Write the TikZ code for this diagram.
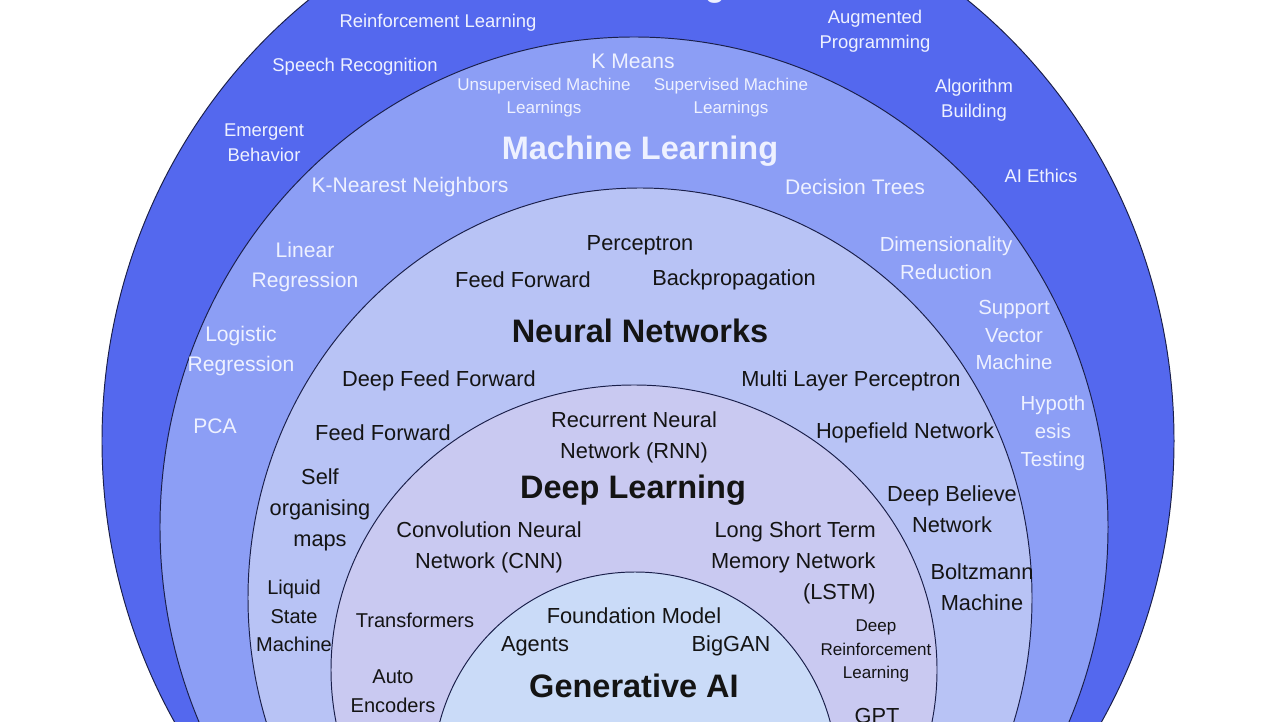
\documentclass[tikz,border=0pt]{standalone}
\usepackage{fontspec}
\setmainfont{Liberation Sans}
\usetikzlibrary{positioning}

\definecolor{aiblue}{HTML}{5468EE}
\definecolor{mlblue}{HTML}{8C9EF5}
\definecolor{nnblue}{HTML}{B8C3F5}
\definecolor{dlblue}{HTML}{C9C9F1}
\definecolor{genblue}{HTML}{CADBF8}
\definecolor{rimline}{HTML}{1A1F4A}
\definecolor{pale}{HTML}{EEF1FF}
\definecolor{inkblack}{HTML}{141414}

\begin{document}
\begin{tikzpicture}[x=0.02cm, y=-0.02cm]
    \tikzset{
        ring/.style = {draw=rimline, line width=0.55pt},
        outertext/.style = {text=pale, align=center, inner sep=0pt, font=\fontsize{10.5}{14.5}\selectfont},
        mltext/.style = {text=pale, align=center, inner sep=0pt, font=\fontsize{12}{17}\selectfont},
        mlmid/.style = {text=pale, align=center, inner sep=0pt, font=\fontsize{11.6}{15.8}\selectfont},
        mlsmall/.style = {text=pale, align=center, inner sep=0pt, font=\fontsize{9.7}{13}\selectfont},
        nntext/.style = {text=inkblack, align=center, inner sep=0pt, font=\fontsize{12.4}{17.5}\selectfont},
        nnsmall/.style = {text=inkblack, align=center, inner sep=0pt, font=\fontsize{11.4}{16.2}\selectfont},
        dltiny/.style = {text=inkblack, align=center, inner sep=0pt, font=\fontsize{9.7}{13.6}\selectfont},
        heading/.style = {inner sep=0pt, font=\fontsize{18.5}{22}\selectfont\bfseries},
    }
    \clip (0,0) rectangle (1280,722);
    \fill[white] (0,0) rectangle (1280,722);

    % nested fields
    \filldraw[ring, fill=aiblue] (638,441) ellipse [x radius=536, y radius=559];
    \filldraw[ring, fill=mlblue] (634,527) ellipse [x radius=474, y radius=490];
    \filldraw[ring, fill=nnblue] (640,598) ellipse [x radius=392, y radius=410];
    \filldraw[ring, fill=dlblue] (634,670) ellipse [x radius=303, y radius=285];
    \filldraw[ring, fill=genblue] (635,774) ellipse [x radius=202, y radius=202];

    % Artificial Intelligence
    \node[heading, text=pale, anchor=base](ai) at (640,-3) {Artificial Intelligence};
    \node[outertext](reinf) at (438,23) {Reinforcement Learning};
    \node[outertext](augm) at (875,31) {Augmented\\Programming};
    \node[outertext](speech) at (355,67) {Speech Recognition};
    \node[outertext](algo) at (974,100) {Algorithm\\Building};
    \node[outertext](emerg) at (264,143) {Emergent\\Behavior};
    \node[outertext](ethics) at (1041,176) {AI Ethics};

    % Machine Learning
    \node[mltext](kmeans) at (633,61) {K Means};
    \node[mlsmall](unsup) at (544,98) {Unsupervised Machine\\Learnings};
    \node[mlsmall](sup) at (731,98) {Supervised Machine\\Learnings};
    \node[heading, text=pale](ml) at (640,151) {Machine Learning};
    \node[mltext](knn) at (410,187) {K-Nearest Neighbors};
    \node[mltext](dtree) at (855,187) {Decision Trees};
    \node[mltext](linreg) at (305,267) {Linear\\Regression};
    \node[mlmid](dimred) at (946,258) {Dimensionality\\Reduction};
    \node[mltext](logreg) at (241,351) {Logistic\\Regression};
    \node[mlmid](svm) at (1014,335) {Support\\Vector\\Machine};
    \node[mltext](pca) at (215,426) {PCA};
    \node[mlmid](hypo) at (1053,433) {Hypoth\\esis\\Testing};

    % Neural Networks
    \node[nntext](percep) at (640,245) {Perceptron};
    \node[nntext](ffwd) at (523,280) {Feed Forward};
    \node[nntext](backprop) at (734,280) {Backpropagation};
    \node[heading, text=inkblack](nn) at (640,331) {Neural Networks};
    \node[nntext](dff) at (439,381) {Deep Feed Forward};
    \node[nntext](mlp) at (851,381) {Multi Layer Perceptron};
    \node[nntext](ffwdb) at (383,433) {Feed Forward};
    \node[nntext](hopf) at (905,433) {Hopefield Network};
    \node[nntext](som) at (320,510) {Self\\organising\\maps};
    \node[nntext](dbn) at (952,509) {Deep Believe\\Network};
    \node[nnsmall](lsm) at (294,616) {Liquid\\State\\Machine};
    \node[nntext](boltz) at (982,587) {Boltzmann\\Machine};

    % Deep Learning
    \node[nntext](rnn) at (634,437) {Recurrent Neural\\Network (RNN)};
    \node[heading, text=inkblack](dl) at (633,490) {Deep Learning};
    \node[nntext](cnn) at (489,547) {Convolution Neural\\Network (CNN)};
    \node[nntext, align=right, anchor=east](lstm) at (876,563) {Long Short Term\\Memory Network\\(LSTM)};
    \node[nnsmall](transf) at (415,620) {Transformers};
    \node[dltiny](drl) at (876,651) {Deep\\Reinforcement\\Learning};
    \node[nnsmall](autoenc) at (393,691) {Auto\\Encoders};
    \node[nntext](gpt) at (877,716) {GPT};

    % Generative AI
    \node[nntext](found) at (634,616) {Foundation Model};
    \node[nntext](agents) at (535,646) {Agents};
    \node[nntext](biggan) at (731,646) {BigGAN};
    \node[heading, text=inkblack](gen) at (634,686) {Generative AI};
\end{tikzpicture}
\end{document}
